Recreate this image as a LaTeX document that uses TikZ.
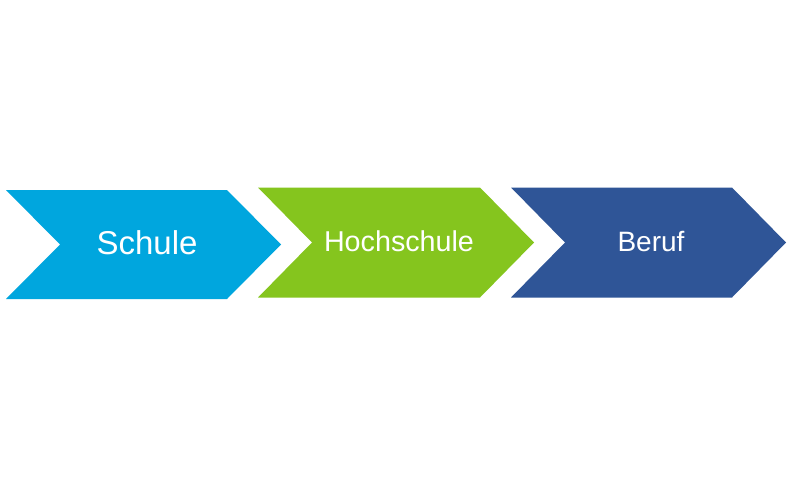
\documentclass[tikz,border=0pt]{standalone}
\usepackage{fontspec}
\setmainfont{Liberation Sans}
\definecolor{cSchule}{RGB}{0,166,222}
\definecolor{cHoch}{RGB}{133,197,30}
\definecolor{cBeruf}{RGB}{47,85,151}
\begin{document}
\begin{tikzpicture}[x=1pt,y=-1pt,
  lbl/.style={text=white,inner sep=0pt,anchor=base}]
\useasboundingbox (0,0) rectangle (790,487);
\fill[white] (0,0) rectangle (790,487);
% Schule chevron
\fill[cSchule] (6,190) -- (227,190) -- (281,244.5) -- (227,299) -- (6,299) -- (60,244.5) -- cycle;
% Hochschule chevron
\fill[cHoch] (258,187.5) -- (480,187.5) -- (534,242.5) -- (480,297.5) -- (258,297.5) -- (312,242.5) -- cycle;
% Beruf chevron
\fill[cBeruf] (511,187.5) -- (732,187.5) -- (786,242.5) -- (732,297.5) -- (511,297.5) -- (565,242.5) -- cycle;
\node[lbl,font=\fontsize{33}{36}\selectfont] (schule) at (147,254) {Schule};
\node[lbl,font=\fontsize{28.7}{32}\selectfont] (hoch) at (399,251.7) {Hochschule};
\node[lbl,font=\fontsize{28}{32}\selectfont] (beruf) at (651,251.7) {Beruf};
\end{tikzpicture}
\end{document}
